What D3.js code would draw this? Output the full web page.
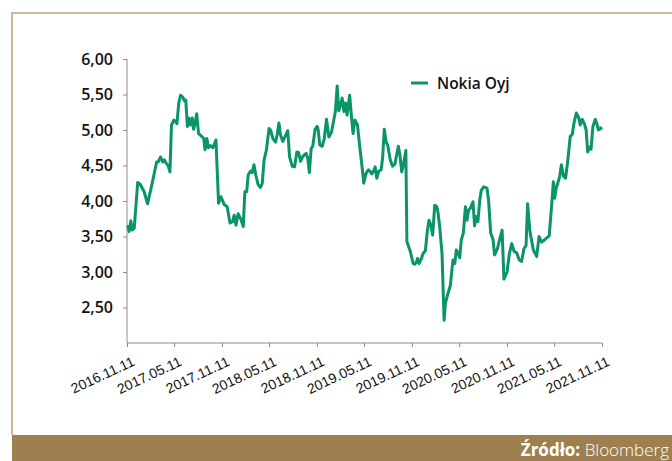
<!DOCTYPE html>
<html>
<head>
<meta charset="utf-8">
<script src="https://cdn.jsdelivr.net/npm/d3@7"></script>
<style>
	body { margin: 0; background: #fff; }
	#root { width: 672px; height: 461px; }
	.y-axis text { font-family: "Open Sans", sans-serif; font-weight: 600; font-size: 16px; fill: #111; }
	.x-axis text { font-family: "Liberation Sans", Arial, sans-serif; font-size: 14px; fill: #111; }
	.axis path, .axis line { stroke: #8c8c8c; }
</style>
</head>
<body>
<div id="root"></div>
<script>
const seriesName = "Nokia Oyj";

const dates = [
	"2016-11-14","2016-11-19","2016-11-26","2016-12-01","2016-12-09","2016-12-22","2016-12-31","2017-01-16","2017-01-29","2017-02-14",
	"2017-03-05","2017-03-11","2017-03-20","2017-03-28","2017-04-03","2017-04-11","2017-04-18","2017-04-25","2017-05-01","2017-05-10",
	"2017-05-17","2017-05-22","2017-05-29","2017-06-05","2017-06-14","2017-06-20","2017-06-25","2017-07-01","2017-07-07","2017-07-13",
	"2017-07-20","2017-07-25","2017-07-31","2017-08-06","2017-08-13","2017-08-25","2017-09-02","2017-09-07","2017-09-14","2017-09-20",
	"2017-09-28","2017-10-07","2017-10-19","2017-10-29","2017-11-07","2017-11-20","2017-12-01","2017-12-12","2017-12-22","2017-12-28",
	"2018-01-04","2018-01-12","2018-01-22","2018-02-01","2018-02-07","2018-02-14","2018-02-20","2018-03-01","2018-03-07","2018-03-14",
	"2018-03-21","2018-03-30","2018-04-08","2018-04-15","2018-04-22","2018-05-01","2018-05-11","2018-05-17","2018-05-26","2018-06-05",
	"2018-06-11","2018-06-18","2018-06-24","2018-07-03","2018-07-12","2018-07-22","2018-07-29","2018-08-08","2018-08-17","2018-08-26",
	"2018-09-02","2018-09-09","2018-09-18","2018-10-01","2018-10-07","2018-10-13","2018-10-20","2018-10-26","2018-11-04","2018-11-12",
	"2018-11-16","2018-11-22","2018-12-01","2018-12-09","2018-12-18","2018-12-27","2019-01-06","2019-01-15","2019-01-21","2019-01-28",
	"2019-02-03","2019-02-11","2019-02-16","2019-02-23","2019-03-01","2019-03-07","2019-03-17","2019-03-24","2019-03-30","2019-04-06",
	"2019-04-16","2019-04-25","2019-05-08","2019-05-10","2019-05-19","2019-05-28","2019-06-05","2019-06-10","2019-06-18","2019-06-23",
	"2019-06-29","2019-07-07","2019-07-16","2019-07-22","2019-07-28","2019-08-04","2019-08-10","2019-08-20","2019-08-29","2019-09-07",
	"2019-09-20","2019-09-26","2019-10-03","2019-10-09","2019-10-19","2019-10-23","2019-11-05","2019-11-16","2019-11-22","2019-11-29",
	"2019-12-03","2019-12-09","2019-12-18","2019-12-24","2020-01-02","2020-01-10","2020-01-16","2020-01-23","2020-01-30","2020-02-07",
	"2020-02-15","2020-02-20","2020-02-26","2020-03-06","2020-03-14","2020-03-19","2020-03-29","2020-04-07","2020-04-17","2020-04-24",
	"2020-04-30","2020-05-07","2020-05-13","2020-05-19","2020-05-27","2020-06-04","2020-06-10","2020-06-16","2020-06-23","2020-07-03",
	"2020-07-09","2020-07-16","2020-07-22","2020-07-29","2020-08-04","2020-08-13","2020-08-26","2020-09-01","2020-09-09","2020-09-18",
	"2020-09-24","2020-10-05","2020-10-13","2020-10-23","2020-10-30","2020-11-11","2020-11-20","2020-11-29","2020-12-08","2020-12-18",
	"2020-12-28","2021-01-06","2021-01-15","2021-01-23","2021-01-29","2021-02-07","2021-02-20","2021-03-05","2021-03-14","2021-03-24",
	"2021-04-06","2021-04-22","2021-05-01","2021-05-08","2021-05-13","2021-05-19","2021-06-01","2021-06-08","2021-06-16","2021-06-24",
	"2021-07-03","2021-07-12","2021-07-20","2021-07-25","2021-08-04","2021-08-13","2021-08-19","2021-08-27","2021-09-05","2021-09-11",
	"2021-09-17","2021-09-24","2021-09-30","2021-10-07","2021-10-16","2021-10-22","2021-10-28","2021-11-05","2021-11-11"
];

const prices = [
	3.66,3.57,3.72,3.59,3.62,4.26,4.24,4.13,3.96,4.22,
	4.55,4.55,4.62,4.55,4.58,4.53,4.50,4.41,5.07,5.14,
	5.12,5.09,5.38,5.49,5.46,5.41,5.42,5.05,5.17,5.07,
	5.17,5.01,5.10,5.23,4.95,4.91,4.88,4.72,4.88,4.75,
	4.78,4.75,4.86,3.97,4.06,3.95,3.92,3.69,3.71,3.80,
	3.66,3.82,3.75,3.64,4.13,4.13,4.37,4.42,4.40,4.51,
	4.37,4.23,4.19,4.25,4.58,4.72,5.02,5.00,4.88,4.83,
	4.93,5.10,4.93,4.84,4.91,4.99,4.62,4.49,4.48,4.69,
	4.68,4.56,4.63,4.67,4.60,4.40,4.74,4.77,5.01,5.05,
	5.00,4.79,4.77,4.87,5.15,4.90,4.97,5.14,5.26,5.62,
	5.27,5.36,5.45,5.26,5.38,5.21,5.49,5.18,4.95,5.14,
	5.07,4.76,4.34,4.25,4.39,4.44,4.41,4.38,4.43,4.48,
	4.32,4.42,4.44,4.62,5.01,4.83,4.79,4.58,4.49,4.52,
	4.77,4.65,4.41,4.50,4.71,3.43,3.29,3.12,3.11,3.14,
	3.19,3.12,3.19,3.26,3.30,3.59,3.73,3.66,3.52,3.94,
	3.92,3.83,3.64,3.26,2.32,2.56,2.70,2.81,3.17,3.12,
	3.31,3.26,3.20,3.45,3.55,3.92,3.73,3.87,3.90,3.99,
	3.65,3.78,3.71,4.01,4.15,4.20,4.18,4.01,3.55,3.46,
	3.24,3.33,3.45,3.59,2.90,3.00,3.26,3.40,3.29,3.27,
	3.17,3.15,3.33,3.37,3.96,3.57,3.31,3.22,3.50,3.42,
	3.46,3.51,3.92,4.27,4.04,4.18,4.34,4.51,4.35,4.32,
	4.59,4.91,4.94,5.07,5.24,5.18,5.07,5.15,5.08,5.00,
	4.69,4.76,4.73,5.05,5.15,5.09,5.00,5.03,5.01
];

const xTickLabels = ["2016.11.11","2017.05.11","2017.11.11","2018.05.11","2018.11.11","2019.05.11",
	"2019.11.11","2020.05.11","2020.11.11","2021.05.11","2021.11.11"];

const yTicks = [2.5, 3, 3.5, 4, 4.5, 5, 5.5, 6];

const parseDay = d3.timeParse("%Y-%m-%d");
const parseTick = d3.timeParse("%Y.%m.%d");
const commaFormat = d => d3.format(".2f")(d).replace(".", ",");

const makeChart = () => {

	const svg = d3
				.select("#root")
					.append("svg")
						.attr("width", 672)
						.attr("height", 461);

	drawFrame(svg);

	const x = d3.scaleTime()
				.domain([parseTick(xTickLabels[0]), parseTick(xTickLabels[xTickLabels.length - 1])])
				.range([127, 602]);

	const y = d3.scaleLinear()
				.domain([2, 6])
				.range([343, 59]);

	// axes
	svg.append("g")
		.attr("class", "axis y-axis")
		.attr("transform", "translate(127,0)")
		.call(d3.axisLeft(y).tickValues(yTicks).tickSize(4).tickPadding(10).tickFormat(commaFormat))
		.call(g => g.select(".domain").attr("d", "M0,59V343"));

	const xAxis = svg.append("g")
		.attr("class", "axis x-axis")
		.attr("transform", "translate(0,343)")
		.call(d3.axisBottom(x).tickValues(xTickLabels.map(parseTick)).tickSize(4).tickFormat((d, i) => xTickLabels[i]))
		.call(g => g.select(".domain").attr("d", "M127,0H602"));

	xAxis.selectAll("text")
		.attr("text-anchor", "end")
		.attr("dy", null)
		.attr("y", 0)
		.attr("transform", "translate(8,22) rotate(-25)");

	// line
	const data = dates.map((d, i) => ({ date: parseDay(d), value: prices[i] }));

	const line = d3.line()
					.x(d => x(d.date))
					.y(d => y(d.value));

	svg.append("path")
		.datum(data)
		.attr("fill", "none")
		.attr("stroke", "#0a9467")
		.attr("stroke-width", 3)
		.attr("stroke-linejoin", "round")
		.attr("d", line);

	// legend
	const legend = svg.append("g").attr("transform", "translate(411,83)");
	legend.append("line")
		.attr("x1", 0).attr("x2", 17)
		.attr("stroke", "#0a9467")
		.attr("stroke-width", 3);
	legend.append("text")
		.attr("x", 26)
		.attr("y", 5.5)
		.style("font-family", "'Open Sans', sans-serif")
		.style("font-weight", 600)
		.style("font-size", "15.5px")
		.style("fill", "#111")
		.text(seriesName);
};

const drawFrame = (svg) => {

	svg.append("path")
		.attr("d", "M12,435V13H672")
		.attr("fill", "none")
		.attr("stroke", "#bba37b")
		.attr("stroke-width", 1.5);

	svg.append("rect")
		.attr("x", 12)
		.attr("y", 435)
		.attr("width", 660)
		.attr("height", 26)
		.attr("fill", "#9e8050");

	const source = svg.append("text")
		.attr("x", 669)
		.attr("y", 456)
		.attr("text-anchor", "end")
		.style("font-family", "'Open Sans', sans-serif")
		.style("font-size", "17px")
		.style("fill", "#fff");

	source.append("tspan").style("font-weight", 700).text("Źródło: ");
	source.append("tspan").style("font-weight", 300).text("Bloomberg");
};

makeChart();
</script>
</body>
</html>
